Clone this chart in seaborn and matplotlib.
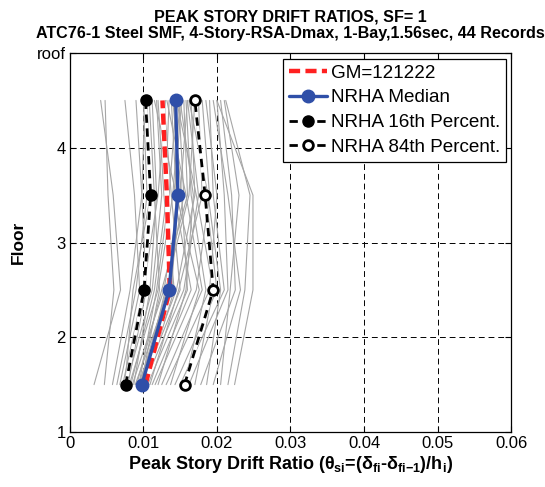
import numpy as np
import pandas as pd
import matplotlib
matplotlib.use("Agg")
import matplotlib.pyplot as plt
import seaborn as sns
from matplotlib.lines import Line2D

# ---------------- data ----------------
floors = [1.5, 2.5, 3.5, 4.5]
ytick_vals = [1, 2, 3, 4, 5]
ytick_labels = ["1", "2", "3", "4", "roof"]
xtick_vals = [0, 0.01, 0.02, 0.03, 0.04, 0.05, 0.06]
xtick_labels = ["0", "0.01", "0.02", "0.03", "0.04", "0.05", "0.06"]

gm_121222 = [0.0103, 0.0136, 0.0132, 0.0126]
nrha_median = [0.0098, 0.0135, 0.0147, 0.0144]
nrha_p16 = [0.0076, 0.0101, 0.0110, 0.0103]
nrha_p84 = [0.0156, 0.0195, 0.0184, 0.0170]

records = [
    [0.0033, 0.0069, 0.0059, 0.0042],
    [0.0047, 0.0060, 0.0052, 0.0048],
    [0.0058, 0.0082, 0.0098, 0.0090],
    [0.0064, 0.0090, 0.0105, 0.0100],
    [0.0068, 0.0095, 0.0088, 0.0075],
    [0.0072, 0.0100, 0.0120, 0.0130],
    [0.0075, 0.0086, 0.0110, 0.0105],
    [0.0077, 0.0112, 0.0125, 0.0118],
    [0.0079, 0.0104, 0.0098, 0.0102],
    [0.0081, 0.0120, 0.0140, 0.0150],
    [0.0083, 0.0115, 0.0132, 0.0125],
    [0.0085, 0.0128, 0.0150, 0.0160],
    [0.0087, 0.0109, 0.0118, 0.0112],
    [0.0089, 0.0135, 0.0145, 0.0138],
    [0.0091, 0.0125, 0.0160, 0.0155],
    [0.0093, 0.0140, 0.0128, 0.0120],
    [0.0094, 0.0118, 0.0135, 0.0145],
    [0.0095, 0.0132, 0.0155, 0.0148],
    [0.0096, 0.0145, 0.0170, 0.0165],
    [0.0097, 0.0122, 0.0115, 0.0108],
    [0.0098, 0.0138, 0.0148, 0.0142],
    [0.0098, 0.0150, 0.0138, 0.0128],
    [0.0099, 0.0130, 0.0162, 0.0170],
    [0.0101, 0.0155, 0.0175, 0.0160],
    [0.0103, 0.0142, 0.0130, 0.0135],
    [0.0106, 0.0160, 0.0152, 0.0140],
    [0.0109, 0.0148, 0.0180, 0.0175],
    [0.0112, 0.0165, 0.0142, 0.0152],
    [0.0116, 0.0172, 0.0190, 0.0180],
    [0.0120, 0.0158, 0.0168, 0.0150],
    [0.0125, 0.0180, 0.0158, 0.0132],
    [0.0131, 0.0190, 0.0200, 0.0185],
    [0.0137, 0.0176, 0.0145, 0.0115],
    [0.0143, 0.0200, 0.0185, 0.0168],
    [0.0150, 0.0210, 0.0195, 0.0190],
    [0.0156, 0.0185, 0.0165, 0.0158],
    [0.0162, 0.0215, 0.0210, 0.0200],
    [0.0170, 0.0195, 0.0172, 0.0145],
    [0.0178, 0.0225, 0.0220, 0.0205],
    [0.0186, 0.0205, 0.0188, 0.0162],
    [0.0195, 0.0232, 0.0215, 0.0195],
    [0.0205, 0.0218, 0.0230, 0.0210],
    [0.0215, 0.0238, 0.0245, 0.0212],
    [0.0224, 0.0249, 0.0249, 0.0200],
]

rows = []
for i, rec in enumerate(records):
    for fl, v in zip(floors, rec):
        rows.append({"record": i, "floor": fl, "drift": v})
df = pd.DataFrame(rows)

# ---------------- style ----------------
sns.set_theme(style="white")
plt.rcParams["font.family"] = ["Liberation Sans", "DejaVu Sans"]
plt.rcParams["mathtext.fontset"] = "custom"
plt.rcParams["mathtext.rm"] = "Liberation Sans:bold"
plt.rcParams["mathtext.it"] = "Liberation Sans:bold"
plt.rcParams["mathtext.bf"] = "Liberation Sans:bold"
plt.rcParams["text.color"] = "black"
plt.rcParams["axes.labelcolor"] = "black"
plt.rcParams["xtick.color"] = "black"
plt.rcParams["ytick.color"] = "black"

fig = plt.figure(figsize=(5.45, 4.87), dpi=100)
ax = fig.add_axes([0.128, 0.113, 0.810, 0.778])

sns.lineplot(data=df, x="drift", y="floor", units="record", estimator=None,
             sort=False, color="0.65", lw=0.8, ax=ax, legend=False, zorder=2)

# percentile lines (white underlay to mimic white gaps)
for vals in (nrha_p16, nrha_p84):
    ax.plot(vals, floors, color="white", lw=2.2, zorder=3)
ax.plot(gm_121222, floors, color="white", lw=3.2, zorder=3)
ax.plot(gm_121222, floors, color="#ff2020", lw=3.2, ls=(0, (2.5, 1.2)), zorder=4)
ax.plot(nrha_median, floors, color="#2f4fa8", lw=2.4, marker="o", ms=9, zorder=5)
ax.plot(nrha_p16, floors, color="black", lw=2.0, ls=(0, (3, 2)), marker="o", ms=8,
        mfc="black", mec="black", zorder=5)
ax.plot(nrha_p84, floors, color="black", lw=2.0, ls=(0, (3, 2)), marker="o", ms=7,
        mfc="white", mec="black", mew=2.0, zorder=5)

ax.set_xlim(0, 0.06)
ax.set_ylim(1, 5)
ax.set_xticks(xtick_vals)
ax.set_xticklabels(xtick_labels, fontsize=12, color="black")
ax.set_yticks(ytick_vals)
ax.set_yticklabels(ytick_labels, fontsize=12, color="black")
ax.tick_params(direction="in", length=4, width=0.8, top=True, right=True,
               bottom=True, left=True, colors="black", pad=3)
for s in ax.spines.values():
    s.set_color("black")
    s.set_linewidth(0.9)

for xv in xtick_vals[1:-1]:
    ax.axvline(xv, color="black", lw=0.7, ls=(0, (6, 4)), zorder=1)
for yv in ytick_vals[1:-1]:
    ax.axhline(yv, color="black", lw=0.7, ls=(0, (6, 4)), zorder=1)

ax.set_xlabel(r"Peak Story Drift Ratio ($\theta_{si}$=($\delta_{fi}$-$\delta_{fi\mathrm{-}1}$)/h$_{i}$)",
              fontsize=13, fontweight="bold", labelpad=2, color="black")
ax.set_ylabel("Floor", fontsize=12.5, fontweight="bold", labelpad=8, color="black")
ax.set_title("PEAK STORY DRIFT RATIOS, SF= 1\nATC76-1 Steel SMF, 4-Story-RSA-Dmax, 1-Bay,1.56sec, 44 Records",
             fontsize=11.6, fontweight="bold", pad=11, linespacing=1.15, color="black")

handles = [
    Line2D([], [], color="#ff2020", lw=3.2, ls=(0, (2.5, 1.2))),
    Line2D([], [], color="#2f4fa8", lw=2.4, marker="o", ms=9),
    Line2D([], [], color="black", lw=2.0, ls=(0, (3, 2)), marker="o", ms=8),
    Line2D([], [], color="black", lw=2.0, ls=(0, (3, 2)), marker="o", ms=7,
           mfc="white", mew=2.0),
]
labels = ["GM=121222", "NRHA Median", "NRHA 16th Percent.", "NRHA 84th Percent."]
leg = ax.legend(handles, labels, loc="upper right", fontsize=13.6, frameon=True,
                fancybox=False, edgecolor="black", framealpha=1, handlelength=2.0,
                handletextpad=0.2, borderpad=0.3, labelspacing=0.4,
                borderaxespad=0.3)
leg.get_frame().set_linewidth(0.9)
for t in leg.get_texts():
    t.set_color("black")

fig.savefig("out.png", dpi=100)
